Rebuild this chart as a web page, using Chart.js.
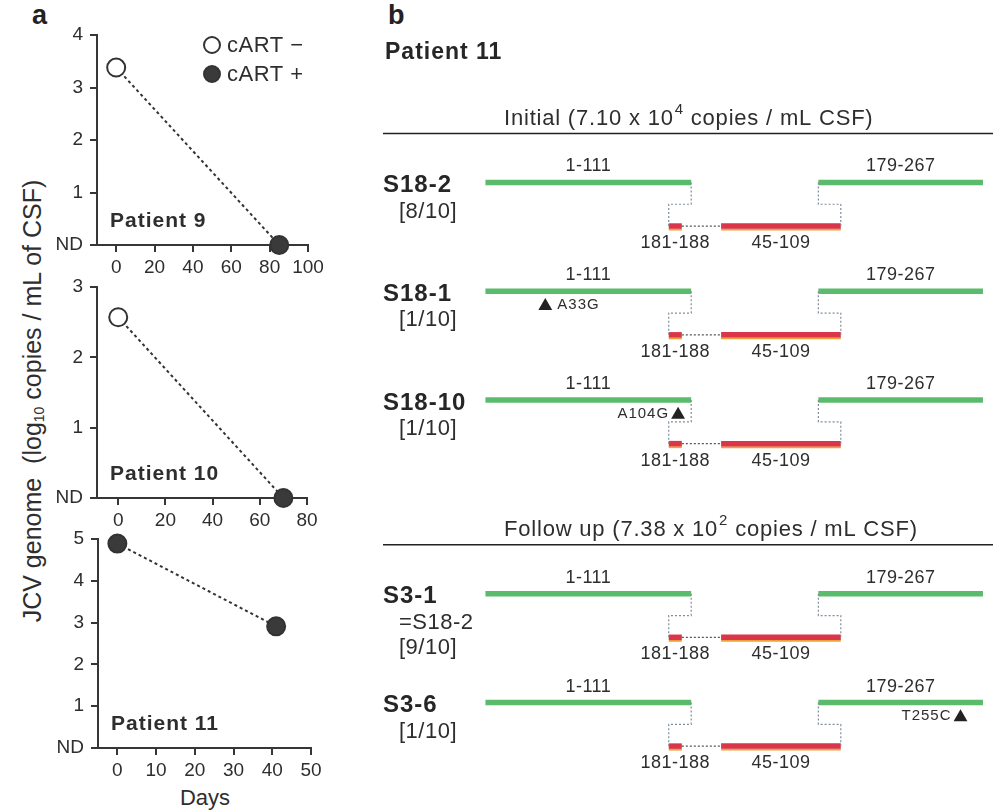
<!DOCTYPE html>
<html>
<head>
<meta charset="utf-8">
<script src="https://cdn.jsdelivr.net/npm/chart.js@4.4.1/dist/chart.umd.min.js"></script>
<style>
  html, body { margin: 0; padding: 0; background: #fff; }
  body { width: 999px; height: 811px; position: relative; overflow: hidden;
         font-family: "Liberation Sans", Arial, sans-serif; color: #2e2e2e; }
  .pane { position: absolute; }
  .tag { position: absolute; font-weight: bold; font-size: 27px; line-height: 27px; color: #222; }
  #ytitle { position: absolute; left: 35px; top: 401px; white-space: nowrap;
            transform: translate(-50%, -50%) rotate(-90deg);
            font-size: 25px; line-height: 28px; color: #2e2e2e; }
  #ytitle sub { font-size: 14px; vertical-align: -3px; }
  #xtitle { position: absolute; left: 205px; top: 787px; transform: translateX(-50%);
            font-size: 22px; line-height: 22px; color: #2e2e2e; }
</style>
</head>
<body>
<div class="tag" style="left:32px;top:2px">a</div>
<div class="tag" style="left:388px;top:2px">b</div>
<div id="ytitle">JCV genome&nbsp;&nbsp;(log<sub>10</sub> copies / mL of CSF)</div>
<div id="xtitle">Days</div>

<div class="pane" style="left:0;top:0;width:345px;height:290px"><canvas id="load9"></canvas></div>
<div class="pane" style="left:0;top:260px;width:345px;height:280px"><canvas id="load10"></canvas></div>
<div class="pane" style="left:0;top:510px;width:345px;height:301px"><canvas id="load11"></canvas></div>
<div class="pane" style="left:380px;top:0;width:619px;height:811px"><canvas id="nccr"></canvas></div>

<script>
// ---------- panel a: CSF JCV load over time ----------
const p9Days = [0, 85];
const p9Log = [3.38, 0];
const p9Cart = [false, true];

const p10Days = [0, 70];
const p10Log = [2.57, 0];
const p10Cart = [false, true];

const p11Days = [0, 41];
const p11Log = [4.89, 2.91];
const p11Cart = [true, true];

const p9DayTicks = [0, 20, 40, 60, 80, 100];
const p10DayTicks = [0, 20, 40, 60, 80];
const p11DayTicks = [0, 10, 20, 30, 40, 50];
const loadTickLabels = ['ND', '1', '2', '3', '4', '5'];
const cartLabels = ['cART \u2212', 'cART +'];
const patientNames = ['Patient 9', 'Patient 10', 'Patient 11'];

// ---------- panel b: NCCR clones from patient 11 ----------
const cloneNames = ['S18-2', 'S18-1', 'S18-10', 'S3-1', 'S3-6'];
const cloneNotes = [['[8/10]'], ['[1/10]'], ['[1/10]'], ['=S18-2', '[9/10]'], ['[1/10]']];
const cloneSample = [0, 0, 0, 1, 1];
const sampleTitles = ['Initial (7.10 x 10', 'Follow up (7.38 x 10'];
const sampleExponents = ['4', '2'];
const sampleTitleEnd = ' copies / mL CSF)';
const keptBlocks = [[1, 111], [179, 267]];
const insertBlocks = [[181, 188], [45, 109]];
const mutationNames = ['', 'A33G', 'A104G', '', 'T255C'];
const mutationSites = [null, 33, 104, null, 255];

const FONT = '"Liberation Sans", Arial, sans-serif';
const INK = '#2e2e2e';
const AXIS = '#363636';

// ---------- load charts ----------
function loadChart(id, days, logs, cart, cfg) {
  const labelPlugin = {
    id: 'loadLabels',
    afterDatasetsDraw(chart) {
      const { ctx, chartArea } = chart;
      ctx.save();
      ctx.fillStyle = INK;
      ctx.textBaseline = 'middle';
      ctx.textAlign = 'left';
      ctx.letterSpacing = '1px';
      ctx.font = 'bold 21px ' + FONT;
      ctx.fillText(cfg.name, chartArea.left + 13, chartArea.bottom - 24);
      if (cfg.legend) {
        ctx.letterSpacing = '0.5px';
        ctx.font = '22px ' + FONT;
        cartLabels.forEach((t, i) => {
          const cx = chartArea.left + 115, cy = chartArea.top + 10 + i * 29;
          ctx.beginPath();
          ctx.arc(cx, cy, 8, 0, Math.PI * 2);
          ctx.fillStyle = i === 0 ? '#fff' : '#3a3a3a';
          ctx.fill();
          ctx.lineWidth = 2;
          ctx.strokeStyle = '#333';
          ctx.stroke();
          ctx.fillStyle = INK;
          ctx.fillText(t, cx + 15, cy + 1);
        });
      }
      ctx.restore();
    }
  };

  const axisCommon = {
    grid: { drawOnChartArea: false, drawTicks: true, tickLength: 7, color: AXIS, lineWidth: 2 },
    border: { display: true, color: AXIS, width: 2 }
  };

  return new Chart(document.getElementById(id), {
    type: 'line',
    data: {
      datasets: [{
        data: days.map((d, i) => ({ x: d, y: logs[i] })),
        borderColor: '#333',
        borderWidth: 2,
        borderDash: [3, 3],
        tension: 0,
        pointRadius: 9,
        pointHoverRadius: 9,
        pointBorderWidth: 2,
        pointBorderColor: '#333',
        pointBackgroundColor: cart.map(c => (c ? '#3a3a3a' : '#ffffff')),
        clip: false
      }]
    },
    options: {
      responsive: true,
      maintainAspectRatio: false,
      animation: false,
      events: [],
      layout: { padding: cfg.padding },
      plugins: { legend: { display: false }, tooltip: { enabled: false } },
      scales: {
        x: {
          type: 'linear',
          min: cfg.xMin,
          max: cfg.xMax,
          afterBuildTicks: s => { s.ticks = cfg.xTicks.map(v => ({ value: v })); },
          afterFit: s => { s.height = 40; },
          ...axisCommon,
          ticks: { font: { size: 19, family: FONT }, color: INK, padding: 4, maxRotation: 0, autoSkip: false }
        },
        y: {
          type: 'linear',
          min: 0,
          max: cfg.yMax,
          afterFit: s => { s.width = cfg.axisLeft; },
          ...axisCommon,
          ticks: {
            stepSize: 1,
            font: { size: 19, family: FONT },
            color: INK,
            padding: 7,
            callback: v => loadTickLabels[v]
          }
        }
      }
    },
    plugins: [labelPlugin]
  });
}

loadChart('load9', p9Days, p9Log, p9Cart, {
  name: patientNames[0], legend: true, xMin: -10, xMax: 100, xTicks: p9DayTicks, yMax: 4,
  axisLeft: 97, padding: { top: 35, right: 37, bottom: 5, left: 0 }
});
loadChart('load10', p10Days, p10Log, p10Cart, {
  name: patientNames[1], legend: false, xMin: -9, xMax: 80, xTicks: p10DayTicks, yMax: 3,
  axisLeft: 97, padding: { top: 27, right: 38, bottom: 2, left: 0 }
});
loadChart('load11', p11Days, p11Log, p11Cart, {
  name: patientNames[2], legend: false, xMin: -5, xMax: 50, xTicks: p11DayTicks, yMax: 5,
  axisLeft: 98, padding: { top: 29, right: 34, bottom: 23, left: 0 }
});

// ---------- NCCR diagram ----------
const ROW_Y = [0, 1, 2, 3.78, 4.78];     // vertical slot of each clone
const STEP_Y = 0.2;                      // connector elbow below the kept track
const INSERT_Y = 0.4;                    // inserted track below the kept track
const MUT_Y = 0.135;                     // mutation marker below the kept track
const INSERT_OVERHANG = 12;
const INSERT_GAP = 21;
const GREEN = '#5bbb6c';
const RED = '#da3549';
const ORANGE = '#eba23c';
const DOTS = '#7f8d9a';

// place the inserted blocks on the lower track
let cursor = keptBlocks[0][1] - INSERT_OVERHANG;
const insertPlaced = insertBlocks.map(([a, b]) => {
  const s = cursor, e = cursor + (b - a);
  cursor = e + INSERT_GAP;
  return [s, e];
});

const seg = (pts, color, width, dash) => ({
  data: pts,
  borderColor: color,
  borderWidth: width,
  borderDash: dash || [],
  pointRadius: 0,
  pointHoverRadius: 0,
  tension: 0,
  fill: false
});

const nccrSets = [];
cloneNames.forEach((name, i) => {
  const yk = ROW_Y[i], ym = yk + STEP_Y, yi = yk + INSERT_Y;
  const leftEnd = keptBlocks[0][1], rightStart = keptBlocks[1][0];
  nccrSets.push(seg([{ x: leftEnd, y: yk }, { x: leftEnd, y: ym },
                     { x: insertPlaced[0][0], y: ym }, { x: insertPlaced[0][0], y: yi }], DOTS, 1.2, [2, 2]));
  nccrSets.push(seg([{ x: rightStart, y: yk }, { x: rightStart, y: ym },
                     { x: insertPlaced[1][1], y: ym }, { x: insertPlaced[1][1], y: yi }], DOTS, 1.2, [2, 2]));
  nccrSets.push(seg([{ x: insertPlaced[0][1], y: yi }, { x: insertPlaced[1][0], y: yi }], '#555', 1.2, [2, 2]));
  keptBlocks.forEach(([a, b]) => nccrSets.push(seg([{ x: a, y: yk }, { x: b, y: yk }], GREEN, 5.5)));
  insertPlaced.forEach(([a, b]) => nccrSets.push(seg([{ x: a, y: yi }, { x: b, y: yi }], RED, 5.5)));
  if (mutationSites[i] !== null) {
    nccrSets.push({
      data: [{ x: mutationSites[i], y: yk + MUT_Y }],
      showLine: false,
      pointStyle: 'triangle',
      pointRadius: 8,
      pointHoverRadius: 8,
      pointBorderWidth: 0,
      pointBackgroundColor: '#222'
    });
  }
});

function richTitle(ctx, x, y, main, sup, tail) {
  ctx.letterSpacing = '0.8px';
  ctx.font = '22px ' + FONT;
  ctx.textBaseline = 'middle';
  ctx.textAlign = 'left';
  ctx.fillText(main, x, y);
  let w = ctx.measureText(main).width;
  ctx.font = '15px ' + FONT;
  ctx.fillText(sup, x + w + 1, y - 9);
  w += ctx.measureText(sup).width + 1;
  ctx.font = '22px ' + FONT;
  ctx.fillText(tail, x + w, y);
  ctx.letterSpacing = '0px';
}

const nccrLabels = {
  id: 'nccrLabels',
  beforeDatasetsDraw(chart) {
    const { ctx, scales: { x, y } } = chart;
    ctx.save();
    ctx.strokeStyle = ORANGE;
    ctx.lineWidth = 2;
    cloneNames.forEach((n, i) => {
      const py = y.getPixelForValue(ROW_Y[i] + INSERT_Y) + 3.5;
      insertPlaced.forEach(([a, b]) => {
        ctx.beginPath();
        ctx.moveTo(x.getPixelForValue(a), py);
        ctx.lineTo(x.getPixelForValue(b), py);
        ctx.stroke();
      });
    });
    ctx.restore();
  },
  afterDatasetsDraw(chart) {
    const { ctx, scales: { x, y } } = chart;
    ctx.save();
    ctx.fillStyle = INK;
    ctx.textBaseline = 'middle';

    // heading
    ctx.textAlign = 'left';
    ctx.letterSpacing = '1px';
    ctx.font = 'bold 23px ' + FONT;
    ctx.fillStyle = '#262626';
    ctx.fillText('Patient 11', 5, 53);
    ctx.letterSpacing = '0px';

    // sample headers with rule
    sampleTitles.forEach((t, g) => {
      const first = cloneSample.indexOf(g);
      const ly = y.getPixelForValue(ROW_Y[first] - 0.45);
      ctx.strokeStyle = '#222';
      ctx.lineWidth = 1.5;
      ctx.beginPath();
      ctx.moveTo(3, ly);
      ctx.lineTo(613, ly);
      ctx.stroke();
      ctx.fillStyle = INK;
      richTitle(ctx, 124, ly - 15, t, sampleExponents[g], sampleTitleEnd);
    });

    cloneNames.forEach((name, i) => {
      const yk = y.getPixelForValue(ROW_Y[i]);
      const yi = y.getPixelForValue(ROW_Y[i] + INSERT_Y);

      // clone name and frequency
      ctx.textAlign = 'left';
      ctx.fillStyle = '#262626';
      ctx.letterSpacing = '1px';
      ctx.font = 'bold 24px ' + FONT;
      ctx.fillText(name, 3, yk + 3);
      ctx.fillStyle = INK;
      ctx.letterSpacing = '0.5px';
      ctx.font = '22px ' + FONT;
      cloneNotes[i].forEach((note, k) => ctx.fillText(note, 19, yk + 29 + k * 25));

      // block ranges
      ctx.textAlign = 'center';
      ctx.font = '18px ' + FONT;
      keptBlocks.forEach(([a, b]) => {
        const cx = (x.getPixelForValue(a) + x.getPixelForValue(b)) / 2;
        ctx.fillText(a + '-' + b, cx, yk - 16);
      });
      insertBlocks.forEach(([a, b], k) => {
        const [s, e] = insertPlaced[k];
        const cx = (x.getPixelForValue(s) + x.getPixelForValue(e)) / 2;
        ctx.fillText(a + '-' + b, cx, yi + 17);
      });
      ctx.letterSpacing = '0px';

      // point mutation label
      if (mutationSites[i] !== null) {
        const site = mutationSites[i];
        const block = keptBlocks.find(([a, b]) => site >= a && site <= b);
        const px = x.getPixelForValue(site);
        const py = y.getPixelForValue(ROW_Y[i] + MUT_Y) - 1;
        ctx.font = '15px ' + FONT;
        ctx.letterSpacing = '1px';
        if (block[1] - site < 20) {
          ctx.textAlign = 'right';
          ctx.fillText(mutationNames[i], px - 9, py);
        } else {
          ctx.textAlign = 'left';
          ctx.fillText(mutationNames[i], px + 12, py);
        }
        ctx.letterSpacing = '0px';
      }
    });
    ctx.restore();
  }
};

new Chart(document.getElementById('nccr'), {
  type: 'line',
  data: { datasets: nccrSets },
  options: {
    responsive: true,
    maintainAspectRatio: false,
    animation: false,
    events: [],
    layout: { padding: 0 },
    plugins: { legend: { display: false }, tooltip: { enabled: false } },
    scales: {
      x: { type: 'linear', display: false, min: -51.1, max: 271.3 },
      y: { type: 'linear', display: false, min: -1.604, max: 5.703, reverse: true }
    }
  },
  plugins: [nccrLabels]
});
</script>
</body>
</html>
